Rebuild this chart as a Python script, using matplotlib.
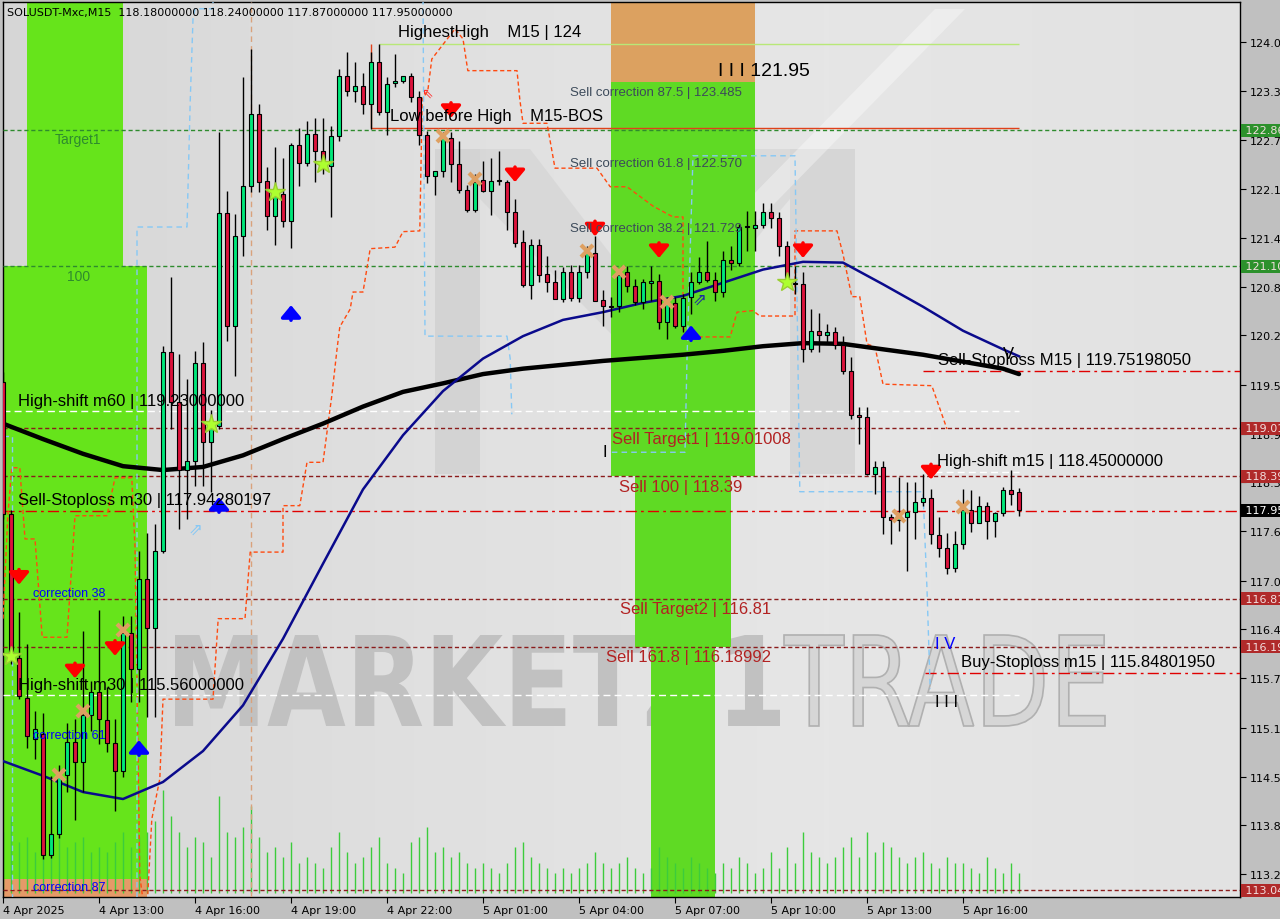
import numpy as np
import matplotlib
matplotlib.use('Agg')
import matplotlib.pyplot as plt
import matplotlib.transforms as mtransforms
from matplotlib.patches import Rectangle, PathPatch, Polygon
from matplotlib.textpath import TextPath
from matplotlib.font_manager import FontProperties
from matplotlib.colors import LinearSegmentedColormap

# ---- data: SOLUSDT M15 bars, first bar 4 Apr 10:00 ----
opens = [119.61, 117.90, 116.04, 115.52, 114.99, 115.06, 113.50, 113.77, 114.53, 114.96,
         114.70, 115.31, 115.60, 115.24, 114.94, 114.58, 116.36, 115.90, 117.06, 116.43,
         117.42, 119.99, 119.35, 118.47, 118.59, 119.85, 118.83, 119.04, 121.79, 120.33,
         121.49, 122.14, 123.07, 122.20, 121.75, 122.04, 121.69, 122.67, 122.44, 122.81,
         122.59, 122.40, 122.79, 123.56, 123.37, 123.43, 123.20, 123.74, 123.10, 123.47,
         123.50, 123.56, 123.29, 122.80, 122.27, 122.33, 122.76, 122.42, 122.09, 121.83,
         122.22, 122.08, 122.20, 122.19, 121.80, 121.42, 120.86, 121.38, 121.00, 120.90,
         120.68, 121.03, 120.69, 121.03, 121.27, 120.67, 120.59, 120.59, 121.03, 120.85,
         120.64, 120.89, 120.91, 120.38, 120.63, 120.33, 120.71, 120.90, 121.03, 120.93,
         120.77, 121.18, 121.15, 121.61, 121.60, 121.64, 121.80, 121.73, 121.36, 120.87,
         120.87, 120.03, 120.27, 120.21, 120.25, 120.09, 119.75, 119.18, 119.16, 118.42,
         118.51, 117.86, 117.82, 117.86, 117.93, 118.06, 118.11, 117.63, 117.46, 117.21,
         117.51, 117.95, 117.79, 118.01, 117.81, 117.91, 118.21, 118.18]
highs = [119.74, 117.95, 116.64, 116.22, 115.36, 115.33, 114.52, 114.66, 115.20, 115.25,
         116.39, 115.74, 116.66, 115.67, 115.25, 116.58, 116.58, 117.42, 117.66, 117.77,
         120.07, 120.96, 119.97, 119.65, 120.01, 120.12, 119.25, 122.84, 122.08, 121.78,
         123.55, 123.91, 123.20, 122.39, 122.64, 122.50, 122.69, 122.89, 122.98, 123.02,
         123.02, 122.92, 123.65, 123.87, 123.74, 123.60, 123.87, 123.97, 123.55, 123.85,
         123.56, 123.60, 123.37, 122.85, 122.33, 122.84, 122.84, 122.72, 122.15, 122.30,
         122.46, 122.50, 122.59, 122.22, 121.97, 121.57, 121.45, 121.45, 121.24, 121.05,
         121.09, 121.12, 121.12, 121.36, 121.50, 120.80, 120.70, 121.05, 121.11, 120.94,
         120.94, 121.11, 121.00, 120.70, 120.70, 120.75, 121.03, 121.22, 121.43, 121.03,
         121.30, 121.36, 121.65, 121.82, 121.82, 121.92, 121.92, 121.80, 121.43, 121.11,
         121.03, 120.55, 120.50, 120.36, 120.32, 120.20, 119.93, 119.29, 119.29, 118.59,
         118.59, 117.90, 118.38, 118.32, 118.32, 118.42, 118.23, 117.86, 117.66, 117.68,
         118.23, 118.21, 118.13, 118.06, 117.93, 118.25, 118.47, 118.24]
lows = [117.84, 115.96, 115.51, 114.88, 114.74, 113.44, 113.46, 113.72, 114.31, 113.95,
        114.31, 115.10, 114.93, 114.83, 114.06, 114.50, 115.47, 115.47, 115.28, 115.28,
        117.40, 119.00, 117.71, 117.84, 118.26, 118.26, 118.19, 119.00, 120.14, 119.69,
        121.24, 122.06, 122.06, 121.57, 121.38, 121.61, 121.34, 122.14, 122.40, 122.19,
        122.29, 121.74, 122.72, 123.30, 123.23, 123.07, 122.88, 123.06, 122.80, 123.42,
        123.47, 123.23, 122.67, 122.18, 122.02, 122.25, 122.19, 122.05, 121.80, 121.80,
        122.06, 121.76, 122.15, 121.57, 121.35, 120.83, 120.68, 120.90, 120.77, 120.68,
        120.64, 120.66, 120.64, 120.95, 120.66, 120.33, 120.45, 120.51, 120.77, 120.60,
        120.55, 120.66, 120.29, 120.16, 120.30, 120.25, 120.49, 120.88, 120.90, 120.66,
        120.70, 121.05, 121.10, 121.30, 121.30, 121.60, 121.60, 121.24, 120.87, 120.74,
        119.87, 120.00, 120.00, 120.13, 120.03, 119.71, 119.13, 118.81, 118.40, 118.16,
        117.64, 117.51, 117.68, 117.17, 117.58, 118.00, 117.51, 117.35, 117.13, 117.15,
        117.45, 117.67, 117.78, 117.58, 117.61, 117.88, 118.02, 117.87]
closes = [117.90, 116.07, 115.55, 115.03, 115.12, 113.50, 113.77, 114.52, 114.96, 114.70,
          115.31, 115.60, 115.25, 114.94, 114.58, 116.36, 115.90, 117.06, 116.43, 117.42,
          119.99, 119.35, 118.47, 118.59, 119.85, 118.83, 119.04, 121.79, 120.33, 121.49,
          122.14, 123.07, 122.19, 121.75, 122.06, 121.69, 122.67, 122.44, 122.81, 122.59,
          122.45, 122.79, 123.56, 123.37, 123.43, 123.20, 123.74, 123.10, 123.46, 123.50,
          123.56, 123.29, 122.80, 122.27, 122.33, 122.76, 122.42, 122.09, 121.83, 122.19,
          122.08, 122.20, 122.21, 121.80, 121.40, 120.86, 121.38, 120.99, 120.90, 120.68,
          121.03, 120.69, 121.03, 121.27, 120.66, 120.59, 120.58, 120.99, 120.85, 120.64,
          120.90, 120.91, 120.38, 120.63, 120.33, 120.69, 120.90, 121.03, 120.93, 120.77,
          121.18, 121.15, 121.61, 121.62, 121.64, 121.80, 121.73, 121.36, 120.90, 120.88,
          120.03, 120.27, 120.21, 120.25, 120.09, 119.75, 119.18, 119.16, 118.42, 118.51,
          117.86, 117.82, 117.85, 117.93, 118.06, 118.11, 117.64, 117.46, 117.21, 117.51,
          117.95, 117.79, 118.01, 117.81, 117.91, 118.21, 118.16, 117.95]
volume = [60, 75, 50, 55, 40, 70, 60, 55, 45, 50, 55, 40, 45, 40, 50, 60, 45, 55, 60,
          70, 100, 75, 60, 45, 55, 50, 35, 95, 60, 55, 65,
          85, 55, 40, 45, 35, 50, 30, 35, 30, 25, 45, 60, 40, 30, 35, 45, 55, 30, 25, 20,
          50, 55, 65, 40, 45, 35, 40, 30, 25, 30, 25, 20, 30, 45, 50, 35, 30, 25, 20, 25, 20, 25, 30, 40, 30,
          25, 30, 35, 25, 20, 25, 45, 35, 30, 25, 35, 30, 25, 20, 30, 25, 35, 30, 20, 25, 40, 25, 45, 30, 60,
          40, 35, 30, 35, 45, 55, 35, 60, 40, 50, 45, 35, 30, 35, 40, 30, 25, 35, 30, 30, 25, 20, 35, 25, 20, 30, 20]

# moving averages, read every 5 bars
ma_idx = [0, 5, 10, 15, 20, 25, 30, 35, 40, 45, 50, 55, 60, 65, 70, 75, 80, 85, 90, 95,
          100, 105, 110, 115, 120, 125, 127]
ma_fast = [114.71, 114.52, 114.31, 114.22, 114.44, 114.84, 115.43, 116.29, 117.26, 118.22,
           118.92, 119.49, 119.91, 120.20, 120.41, 120.51, 120.63, 120.72, 120.89, 121.06,
           121.16, 121.15, 120.87, 120.58, 120.27, 120.03, 119.94]
ma_slow = [119.07, 118.87, 118.68, 118.52, 118.47, 118.51, 118.66, 118.87, 119.07, 119.29,
           119.48, 119.59, 119.71, 119.78, 119.83, 119.88, 119.92, 119.96, 120.01, 120.07,
           120.11, 120.10, 120.03, 119.96, 119.87, 119.78, 119.71]

# step channels (bar, price)
chan_x = [18.1, 18.6, 19.6, 20.0, 26.25, 26.9, 30.25, 30.9, 35.0, 35.0, 37.1, 38.0, 40.0, 41.1,
          41.75, 42.1, 43.4, 43.75, 45.0, 45.9, 49.0, 50.0, 52.1, 52.4, 53.1, 53.6, 56.5, 57.5,
          58.1, 64.25, 64.6, 65.0, 68.0, 69.0, 74.25, 75.9, 78.0, 81.25, 83.75, 85.0, 85.0, 86.25,
          90.9, 91.75, 93.75, 94.6, 99.0, 99.0, 104.25, 105.0, 106.1, 107.1, 108.0, 109.0, 110.0,
          116.1, 118.0]
chan_y = [112.99, 113.96, 114.48, 115.51, 115.51, 116.55, 116.55, 117.41, 117.41, 118.01, 118.01,
          118.57, 118.57, 119.43, 120.03, 120.32, 120.55, 120.77, 120.77, 121.33, 121.35, 121.55,
          121.56, 123.26, 123.37, 123.78, 124.17, 124.04, 123.63, 123.63, 123.26, 122.95, 122.95,
          122.37, 122.37, 122.13, 122.13, 121.88, 121.74, 121.74, 120.29, 120.19, 120.19, 120.51,
          120.53, 120.46, 120.46, 121.56, 121.56, 121.26, 120.71, 120.71, 120.10, 120.06, 119.58,
          119.56, 119.00]
chan2_x = [0.0, 0.6, 1.1, 2.1, 2.75, 4.0, 4.9, 8.0, 9.0, 13.0, 14.0, 16.1, 16.5, 17.1, 17.4]
chan2_y = [116.55, 117.88, 118.50, 118.50, 117.58, 117.58, 116.31, 116.31, 117.88, 117.88,
           118.37, 118.37, 117.48, 113.23, 112.99]
blue_lines = [
    ([0.0, 1.1, 1.1], [118.91, 118.91, 112.95]),
    ([16.75, 16.75, 23.0, 23.4, 23.75, 24.0, 26.25, 26.25],
     [112.95, 121.61, 121.61, 123.23, 124.30, 124.43, 124.43, 124.6]),
    ([52.5, 52.75, 63.0, 63.4, 63.6], [124.6, 120.20, 120.20, 119.91, 119.19]),
    ([76.1, 85.25, 85.5, 86.25, 99.0, 99.6, 115.0, 115.5, 115.9],
     [118.70, 118.70, 119.91, 122.53, 122.53, 118.19, 118.19, 116.93, 115.64]),
]

# signals (bar, price)
sell_arrows = [(2, 116.99), (9, 115.78), (14, 116.07), (56, 123.02), (64, 122.19),
               (74, 121.49), (82, 121.21), (100, 121.21), (116, 118.35)]
buy_arrows = [(36, 120.60), (27, 118.12), (17, 114.98), (86, 120.34)]
stars = [(1, 116.07), (26, 119.07), (34, 122.06), (40, 122.42), (98, 120.90)]
crosses = [(7, 114.53), (10, 115.36), (15, 116.40), (55, 122.79), (59, 122.23), (73, 121.30),
           (77, 121.03), (83, 120.64), (112, 117.88), (120, 117.99)]

y_ticks = [124.00, 123.37, 122.74, 122.10, 121.47, 120.84, 120.21, 119.57, 118.94, 118.31,
           117.68, 117.04, 116.41, 115.78, 115.14, 114.51, 113.88, 113.25]
x_tick_bars = [0, 12, 24, 36, 48, 60, 72, 84, 96, 108, 120]
x_tick_labels = ['4 Apr 2025', '4 Apr 13:00', '4 Apr 16:00', '4 Apr 19:00', '4 Apr 22:00',
                 '5 Apr 01:00', '5 Apr 04:00', '5 Apr 07:00', '5 Apr 10:00', '5 Apr 13:00',
                 '5 Apr 16:00']
# price tags on the right scale
tags = [(122.86, '#2c912c'), (121.10, '#2c912c'), (119.01, '#b02a2a'), (118.39, '#b02a2a'),
        (117.95, '#000000'), (116.81, '#b02a2a'), (116.19, '#b02a2a'), (113.04, '#b02a2a')]

W, H = 1280, 920
L, R, T, B = 3, 1240, 3, 898
LIB = 'Liberation Sans'
plt.rcParams['font.family'] = ['DejaVu Sans']

fig = plt.figure(figsize=(W / 100, H / 100), dpi=100, facecolor='#c0c0c0')
ax = fig.add_axes([L / W, 1 - B / H, (R - L) / W, (B - T) / H])
ax.set_autoscale_on(False)
XMAX = (R - L) / 8
YMIN, YMAX = 112.954, 124.517
px = mtransforms.Affine2D().scale(1 / W, -1 / H).translate(0, 1) + fig.transFigure

# background gradient
cmap = LinearSegmentedColormap.from_list('bg', ['#d6d6d6', '#e0e0e0', '#e6e6e6', '#e2e2e2'])
ax.imshow(np.linspace(0, 1, 256)[None, :], extent=(0, 1, 0, 1), transform=ax.transAxes,
          aspect='auto', cmap=cmap, zorder=0)

# watermark text
def fit_text(s, box, weight, fc, ec, lw):
    tp = TextPath((0, 0), s, size=100, prop=FontProperties(family='DejaVu Sans', weight=weight))
    bb = tp.get_extents()
    x0, y0, x1, y1 = box
    tr = (mtransforms.Affine2D().translate(-bb.x0, -bb.y0)
          .scale((x1 - x0) / bb.width, -(y1 - y0) / bb.height).translate(x0, y1) + px)
    ax.add_patch(PathPatch(tp, transform=tr, fc=fc, ec=ec, lw=lw, zorder=1))

fit_text('MARKETZ1', (175, 636, 780, 727), 'bold', '#c1c1c1', 'none', 0)
fit_text('TRADE', (784, 636, 1105, 727), 'normal', '#d6d6d6', '#b0b0b0', 1.2)

# logo legs
for (x0, x1) in [(435, 480), (790, 855)]:
    ax.add_patch(Polygon([(x0, 150), (x1, 150), (x1, 475), (x0, 475)], closed=True,
                         transform=px, fc='#c4c4c4', ec='none', alpha=0.45, zorder=1))
ax.add_patch(Polygon([(480, 150), (530, 150), (645, 300), (745, 150), (790, 150), (790, 200),
                      (645, 370), (480, 200)], closed=True, transform=px, fc='#c8c8c8',
                     ec='none', alpha=0.35, zorder=1))
ax.add_patch(Polygon([(700, 250), (935, 10), (965, 10), (730, 250)], closed=True, transform=px,
                     fc='white', ec='none', alpha=0.35, zorder=1))

# zones
green = '#66e41b'
zones = [(3, 15, 121.10, 124.6, green), (-0.5, 18, 113.19, 121.10, green),
         (-0.5, 18, 112.9, 113.19, '#e59a68'),
         (76, 94, 123.485, 124.6, '#dca160'), (76, 94, 118.39, 123.485, '#5fda24'),
         (79, 91, 116.19, 118.39, '#5fda24'), (81, 89, 112.9, 116.19, '#5fda24')]
for x0, x1, y0, y1, c in zones:
    ax.add_patch(Rectangle((x0, y0), x1 - x0, y1 - y0, fc=c, ec='none', zorder=1.5))

# volume
x = np.arange(len(opens))
vt = mtransforms.blended_transform_factory(ax.transData, ax.transAxes)
vol = np.array(volume, dtype=float)
ax.vlines(x, 0.004, 0.004 + vol / vol.max() * 0.115, transform=vt, color='#3ccc3c', lw=1, zorder=2)

# levels
dot = (0, (3, 2))
dashdot = (0, (8, 3, 2, 3))
for p, c in [(122.86, '#2e8b2e'), (121.10, '#2e8b2e')]:
    ax.axhline(p, color=c, lw=1, ls=dot, zorder=3)
for p in [119.01, 118.39, 116.81, 116.19, 113.04]:
    ax.axhline(p, color='#8b1c1c', lw=1, ls=dot, zorder=3)
ax.axhline(117.94, color='#e00000', lw=1, ls=dashdot, zorder=3)
ax.hlines([119.752, 115.848], [115.0, 115.25], XMAX, color='#e00000', lw=1, ls=dashdot, zorder=3)
ax.hlines([119.23, 115.56], 0, 127, color='white', lw=1, ls=(0, (5, 3)), zorder=3)
ax.hlines(118.45, 116.5, 127, color='white', lw=1, ls=(0, (5, 3)), zorder=3)
ax.hlines(123.97, 47, 127, color='#b8e878', lw=1, zorder=3)
ax.hlines(122.89, 46, 127, color='#e0401a', lw=1, zorder=3)
ax.vlines(46, 122.89, 123.97, color='#e0401a', lw=1, zorder=3)
ax.axvline(31, color='#d9a27c', lw=1, ls=(0, (4, 3)), zorder=3)

# channels
ax.plot(chan_x, chan_y, color='#ff4a10', lw=1, ls=(0, (3, 2)), zorder=3.5)
ax.plot(chan2_x, chan2_y, color='#ff4a10', lw=1, ls=(0, (3, 2)), zorder=3.5)
for bx, by in blue_lines:
    ax.plot(bx, by, color='#86c8f5', lw=1, ls=(0, (4, 3)), zorder=3.5)

# moving averages
ax.plot(ma_idx, ma_slow, color='black', lw=3.2, zorder=4, solid_capstyle='round')
ax.plot(ma_idx, ma_fast, color='#0a0a8c', lw=1.8, zorder=4)

# candles
o, h, l, c = map(np.array, (opens, highs, lows, closes))
up = c >= o
ax.vlines(x, l, h, color='black', lw=1, zorder=5)
ax.bar(x, np.maximum(np.abs(c - o), 0.015), bottom=np.minimum(o, c), width=0.62,
       color=np.where(up, '#00e77a', '#dc143c'), edgecolor='black', lw=0.8, zorder=6)

# signals
for i, p in sell_arrows:
    ax.annotate('', xy=(i, p), xytext=(0, 15), textcoords='offset pixels', zorder=8,
                arrowprops=dict(arrowstyle='-|>,head_width=0.5,head_length=0.6', color='#ff0000',
                                lw=2.6, mutation_scale=12, shrinkA=0, shrinkB=0))
for i, p in buy_arrows:
    ax.annotate('', xy=(i, p), xytext=(0, -15), textcoords='offset pixels', zorder=8,
                arrowprops=dict(arrowstyle='-|>,head_width=0.5,head_length=0.6', color='#0000ff',
                                lw=2.6, mutation_scale=12, shrinkA=0, shrinkB=0))
sx, sy = zip(*stars)
ax.plot(sx, sy, ls='none', marker='*', ms=15, color='#adff2f', mec='#9acd32', zorder=8)
cx, cy = zip(*crosses)
ax.plot(cx, cy, ls='none', marker='x', ms=9, mew=3, color='#dea062', zorder=8)
ax.text(24, 117.71, '\u21d7', color='#86c8f5', fontsize=12, ha='center', va='center', zorder=8)
ax.text(87, 120.68, '\u21d7', color='#1a2aa0', fontsize=12, ha='center', va='center', zorder=8)
ax.text(53, 123.35, '\u21d6', color='#ff3030', fontsize=10, ha='center', va='center', zorder=8)

# labels (pixel positions)
labels = [
    (7, 13, 'SOLUSDT-Mxc,M15  118.18000000 118.24000000 117.87000000 117.95000000', 'black', 8, 'DejaVu Sans'),
    (398, 33, 'HighestHigh    M15 | 124', 'black', 12, LIB),
    (718, 72, 'I I I 121.95', 'black', 14, LIB),
    (390, 117, 'Low before High    M15-BOS', 'black', 12, LIB),
    (570, 93, 'Sell correction 87.5 | 123.485', '#3c4a5a', 9.5, LIB),
    (570, 164, 'Sell correction 61.8 | 122.570', '#3c4a5a', 9.5, LIB),
    (570, 229, 'Sell correction 38.2 | 121.729', '#3c4a5a', 9.5, LIB),
    (55, 140, 'Target1', '#2e8b2e', 10, LIB),
    (67, 277, '100', '#2e8b2e', 10, LIB),
    (18, 402, 'High-shift m60 | 119.23000000', 'black', 12, LIB),
    (612, 440, 'Sell Target1 | 119.01008', '#b22222', 12, LIB),
    (603, 453, 'I', 'black', 12, LIB),
    (619, 488, 'Sell 100 | 118.39', '#b22222', 12, LIB),
    (18, 501, 'Sell-Stoploss m30 | 117.94280197', 'black', 12, LIB),
    (33, 594, 'correction 38', '#0000ff', 9, LIB),
    (620, 610, 'Sell Target2 | 116.81', '#b22222', 12, LIB),
    (606, 658, 'Sell 161.8 | 116.18992', '#b22222', 12, LIB),
    (18, 686, 'High-shift m30 | 115.56000000', 'black', 12, LIB),
    (33, 736, 'correction 61', '#0000ff', 9, LIB),
    (33, 888, 'correction 87', '#0000ff', 9, LIB),
    (938, 361, 'Sell-Stoploss M15 | 119.75198050', 'black', 12, LIB),
    (1003, 355, 'V', 'black', 12, LIB),
    (937, 462, 'High-shift m15 | 118.45000000', 'black', 12, LIB),
    (935, 645, 'I V', '#0000ff', 12, LIB),
    (961, 663, 'Buy-Stoploss m15 | 115.84801950', 'black', 12, LIB),
    (935, 703, 'I I I', 'black', 12, LIB),
]
for tx, ty, s, col, fs, fam in labels:
    ax.text(tx, ty, s, transform=px, color=col, fontsize=fs, family=fam, ha='left',
            va='center', zorder=10, clip_on=False)

# axes
ax.set_xlim(0, XMAX)
ax.set_ylim(YMIN, YMAX)
ax.yaxis.tick_right()
ax.set_yticks(y_ticks)
ax.set_yticklabels([f'{v:.2f}' for v in y_ticks])
ax.set_xticks(x_tick_bars)
ax.set_xticklabels(x_tick_labels)
for lab in ax.get_xticklabels():
    lab.set_ha('left')
ax.tick_params(axis='y', labelsize=8, length=4, pad=3, direction='out')
ax.tick_params(axis='x', labelsize=8, length=4, pad=2, direction='out')
for sp in ax.spines.values():
    sp.set_color('black')
    sp.set_linewidth(1)

tt = mtransforms.blended_transform_factory(ax.transAxes, ax.transData)
for p, col in tags:
    ax.text(1.0017, p, f' {p:.2f}   ', transform=tt, fontsize=8, ha='left', va='center',
            color='white' if col == '#000000' else '#f2dede', clip_on=False, zorder=11,
            bbox=dict(boxstyle='square,pad=0.12', fc=col, ec='none'))

fig.savefig('out.png', dpi=100, facecolor=fig.get_facecolor())
